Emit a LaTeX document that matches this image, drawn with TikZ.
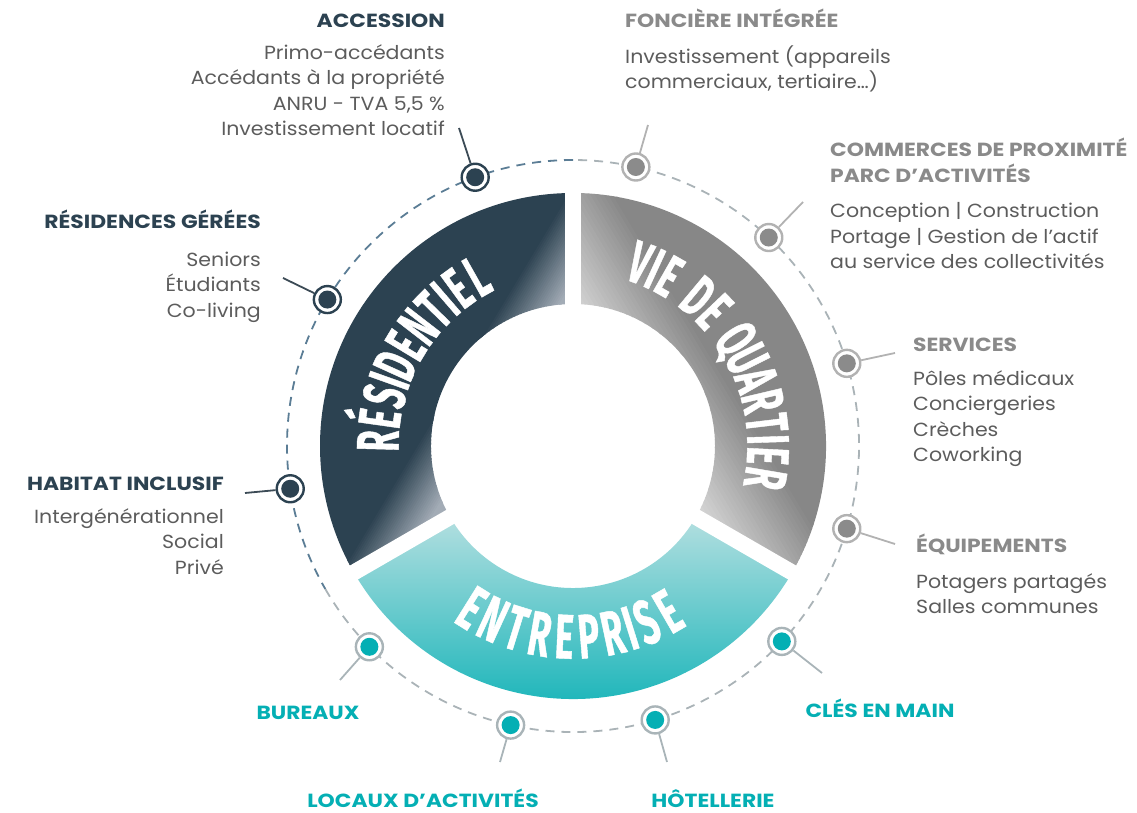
\documentclass[tikz,border=0pt]{standalone}
\usepackage{fontspec}
\setmainfont{Poppins}[UprightFeatures={FakeStretch=1.08},BoldFeatures={FakeStretch=1.15}]
\newfontfamily\ringfont{Fira Sans}[FakeStretch=0.56,FakeBold=0.7]

\definecolor{navy}{HTML}{2C4251}
\definecolor{navylight}{HTML}{A3ACB6}
\definecolor{stone}{HTML}{878787}
\definecolor{stonelight}{HTML}{D9D9D9}
\definecolor{lagoon}{HTML}{04AFB4}
\definecolor{lagoonlight}{HTML}{B3DFE0}
\definecolor{bodygrey}{HTML}{5C5C5C}
\definecolor{titlegrey}{HTML}{8A8A8A}
\definecolor{dashblue}{HTML}{5B7D95}
\definecolor{dashgrey}{HTML}{AAB3B7}
\definecolor{leadnavy}{HTML}{3C4B56}
\definecolor{ringgrey}{HTML}{B2B2B2}
\definecolor{dotgrey}{HTML}{8B8B8B}
\definecolor{ringteal}{HTML}{A9B4B8}

\newcommand\blocktitle[2]{{\color{#1}\bfseries #2}}

\begin{document}
\begin{tikzpicture}[x=1pt,y=1pt,
    sector/.style 2 args={insert path={(#1:253) arc[start angle=#1,end angle=#2,radius=253]
        -- (#2:142) arc[start angle=#2,end angle=#1,radius=142] -- cycle}},
    spot/.style 2 args={circle,minimum size=27pt,inner sep=0pt,fill=white,draw=#1,
        line width=2.4pt,path picture={\fill[#2] (path picture bounding box.center) circle (9);}},
    leader/.style={draw=#1,line width=1.8pt},
    letter/.style={inner sep=0pt,text=white,text height=0.689*#1,text depth=0pt,
        font=\ringfont\bfseries\fontsize{#1}{#1}\selectfont},
    block/.style={inner sep=0pt,text=bodygrey,font=\fontsize{19}{25.5}\selectfont},
    tag/.style={inner sep=0pt,text=lagoon,font=\fontsize{19}{25.5}\selectfont\bfseries}]

  \useasboundingbox (0,0) rectangle (1137,812);

  \begin{scope}[shift={(573,366)}]
    % residentiel
    \begin{scope}
      \clip[sector={90}{210}];
      \begin{scope}[rotate=-31]
        \fill[navy] (-400,-400) rectangle (-133,400);
        \foreach \k [evaluate=\k as \pct using 4*\k, evaluate=\k as \u using -135+2*\k] in {0,...,25}
          \fill[navylight!\pct!navy] (\u,-400) rectangle ({\u+2.6},400);
        \fill[navylight] (-85,-400) rectangle (400,400);
      \end{scope}
    \end{scope}
    % vie de quartier
    \begin{scope}
      \clip[sector={-30}{90}];
      \begin{scope}[rotate=211]
        \fill[stone] (-400,-400) rectangle (-165,400);
        \foreach \k [evaluate=\k as \pct using 4*\k, evaluate=\k as \u using -167+3.8*\k] in {0,...,25}
          \fill[stonelight!\pct!stone] (\u,-400) rectangle ({\u+4.4},400);
        \fill[stonelight] (-72,-400) rectangle (400,400);
      \end{scope}
    \end{scope}
    % entreprise
    \shade[top color=lagoonlight,bottom color=lagoon,sector={210}{330}];

    \foreach \a in {90,210,330}
      \draw[white,line width=16pt] (0,0) -- (\a:262);

    % ring labels, one letter at a time
    \foreach \ch/\ang [count=\i] in {R/178.5,É/171.9,S/165.2,I/160.4,D/155.6,E/149.0,
        N/142.3,T/135.7,I/130.9,E/126.1,L/119.4}
      \node[letter=60,rotate=\ang-90] (lr\i) at (\ang:195) {\ch};
    \foreach \ch/\ang [count=\i] in {V/70,I/65.2,E/60.4,D/50.1,E/43.5,Q/33.3,U/26.6,
        A/20.0,R/13.3,T/6.7,I/1.9,E/-2.9,R/-9.6}
      \node[letter=60,rotate=\ang-90] (lv\i) at (\ang:195) {\ch};
    \foreach \ch/\ang [count=\i] in {E/238,N/245.3,T/252.7,R/260,E/267.4,P/274.7,
        R/282,I/287.4,S/292.7,E/300}
      \node[letter=63,rotate=\ang+90] (le\i) at (\ang:191) {\ch};

    % dashed orbit
    \draw[dashblue,line width=1.8pt,dash pattern=on 9pt off 7pt]
      (90:286) arc[start angle=90,end angle=210,radius=286];
    \draw[dashgrey,line width=1.8pt,dash pattern=on 9pt off 7pt]
      (210:286) arc[start angle=210,end angle=450,radius=286];

    \node[spot={navy}{navy}] (m-acc) at (110:286) {};
    \node[spot={navy}{navy}] (m-res) at (149.2:286) {};
    \node[spot={navy}{navy}] (m-hab) at (188.6:286) {};
    \node[spot={ringteal}{lagoon}] (m-bur) at (224.6:286) {};
    \node[spot={ringteal}{lagoon}] (m-loc) at (257.4:286) {};
    \node[spot={ringteal}{lagoon}] (m-hot) at (286.7:286) {};
    \node[spot={ringteal}{lagoon}] (m-cle) at (316.9:286) {};
    \node[spot={ringgrey}{dotgrey}] (m-equ) at (343.2:286) {};
    \node[spot={ringgrey}{dotgrey}] (m-ser) at (16.8:286) {};
    \node[spot={ringgrey}{dotgrey}] (m-com) at (46.8:286) {};
    \node[spot={ringgrey}{dotgrey}] (m-fon) at (77.3:286) {};
  \end{scope}

  \coordinate (e-acc) at (459,684);
  \coordinate (e-res) at (283,534);
  \coordinate (e-hab) at (245,319);
  \coordinate (e-bur) at (340,132);
  \coordinate (e-loc) at (500,50);
  \coordinate (e-hot) at (667,50);
  \coordinate (e-cle) at (822,139);
  \coordinate (e-equ) at (895,268);
  \coordinate (e-ser) at (895,459);
  \coordinate (e-com) at (803,610);
  \coordinate (e-fon) at (648,687);

  \path[leader=leadnavy] (m-acc) -- (e-acc);
  \path[leader=leadnavy] (m-res) -- (e-res);
  \path[leader=leadnavy] (m-hab) -- (e-hab);
  \path[leader=ringteal] (m-bur) -- (e-bur);
  \path[leader=ringteal] (m-loc) -- (e-loc);
  \path[leader=ringteal] (m-hot) -- (e-hot);
  \path[leader=ringteal] (m-cle) -- (e-cle);
  \path[leader=ringgrey] (m-equ) -- (e-equ);
  \path[leader=ringgrey] (m-ser) -- (e-ser);
  \path[leader=ringgrey] (m-com) -- (e-com);
  \path[leader=ringgrey] (m-fon) -- (e-fon);

  % texts
  \node[block,align=right,anchor=north east] (t-acc) at (445,798)
    {\blocktitle{navy}{ACCESSION}\\[6pt]
     Primo-accédants\\ Accédants à la propriété\\ ANRU - TVA 5,5 \%\\ Investissement locatif};
  \node[block,align=right,anchor=north east] (t-res) at (261,602)
    {\blocktitle{navy}{RÉSIDENCES GÉRÉES}\\[12pt]
     Seniors\\ Étudiants\\ Co-living};
  \node[block,align=right,anchor=north east] (t-hab) at (224,335)
    {\blocktitle{navy}{HABITAT INCLUSIF}\\[7pt]
     Intergénérationnel\\ Social\\ Privé};
  \node[block,align=left,anchor=north west] (t-fon) at (625,803)
    {\blocktitle{titlegrey}{FONCIÈRE INTÉGRÉE}\\[10pt]
     Investissement (appareils\\ commerciaux, tertiaire…)};
  \node[block,align=left,anchor=north west] (t-com) at (830,674)
    {\blocktitle{titlegrey}{COMMERCES DE PROXIMITÉ}\\ \blocktitle{titlegrey}{PARC D’ACTIVITÉS}\\[10pt]
     Conception | Construction\\ Portage | Gestion de l’actif\\ au service des collectivités};
  \node[block,align=left,anchor=north west] (t-ser) at (913,474)
    {\blocktitle{titlegrey}{SERVICES}\\[8pt]
     Pôles médicaux\\ Conciergeries\\ Crèches\\ Coworking};
  \node[block,align=left,anchor=north west] (t-equ) at (916,278)
    {\blocktitle{titlegrey}{ÉQUIPEMENTS}\\[10pt]
     Potagers partagés\\ Salles communes};
  \node[tag,anchor=base] (t-bur) at (308,93) {BUREAUX};
  \node[tag,anchor=base] (t-loc) at (423,5) {LOCAUX D’ACTIVITÉS};
  \node[tag,anchor=base] (t-hot) at (713,5) {HÔTELLERIE};
  \node[tag,anchor=base] (t-cle) at (880,95) {CLÉS EN MAIN};
\end{tikzpicture}
\end{document}
